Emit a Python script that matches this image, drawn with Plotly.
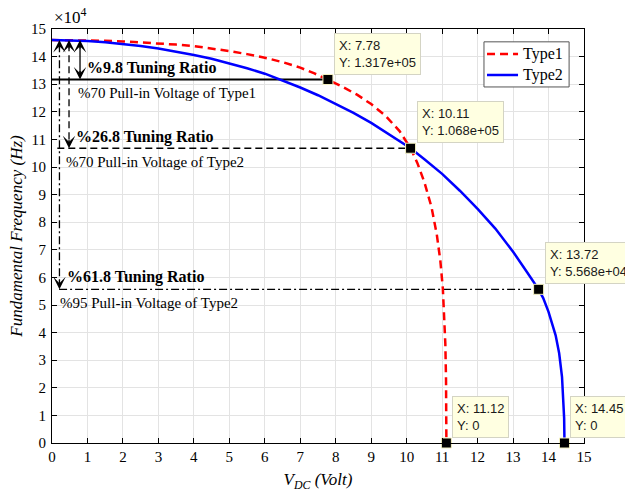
import plotly.graph_objects as go

# ---------------- data ----------------
V_type1 = [0, 0.5, 1, 1.5, 2, 2.5, 3, 3.5, 4, 4.5, 5, 5.5, 6, 6.5, 7, 7.4, 7.78,
           8.2, 8.6, 9.0, 9.4, 9.8, 10.11, 10.3, 10.5, 10.7, 10.85, 10.95, 11.02,
           11.06, 11.09, 11.11, 11.118, 11.12]
F_type1 = [146000, 145980, 145900, 145750, 145500, 145200, 144800, 144350, 143800,
           143000, 142000, 140900, 139600, 138000, 136000, 133900, 131700,
           129000, 126200, 122800, 118600, 113000, 106800, 101500, 94500, 85500,
           75500, 66000, 56000, 47000, 36000, 23000, 12000, 0]

V_type2 = [0, 0.5, 1, 1.5, 2, 2.5, 3, 3.5, 4, 4.5, 5, 5.5, 6, 6.43, 7, 7.5, 8,
           8.5, 9, 9.5, 10.11, 10.5, 11, 11.5, 12, 12.5, 13, 13.4, 13.72, 13.85,
           14.0, 14.2, 14.3, 14.38, 14.42, 14.44, 14.45]
F_type2 = [146000, 145900, 145650, 145200, 144600, 143800, 142900, 141800, 140600,
           139200, 137600, 135800, 133800, 131700, 128800, 126000, 122900,
           119600, 116000, 112000, 106800, 102800, 97500, 91400, 84800, 77700,
           69300, 61800, 55680, 52500, 47500, 39000, 32500, 24000, 16000, 9000, 0]

tip_v = [7.78, 10.11, 13.72, 11.12, 14.45]
tip_f = [131700, 106800, 55680, 0, 0]

f0 = 146000
ref_levels = [131700, 106800, 55680]
ref_end_v = [7.78, 10.11, 13.72]
ref_start_v = [0.0, 0.15, 0.2]
arrow_v = [0.79, 0.48, 0.21]
ratio_labels = ["%9.8 Tuning Ratio", "%26.8 Tuning Ratio", "%61.8 Tuning Ratio"]
pullin_labels = ["%70 Pull-in Voltage of Type1", "%70 Pull-in Voltage of Type2",
                 "%95 Pull-in Voltage of Type2"]
series_names = ["Type1", "Type2"]

x_ticks = list(range(16))
y_ticks = list(range(16))  # in units of 1e4 Hz

# ---------------- styles ----------------
SERIF = "Liberation Serif"
SANS = "Liberation Sans"
ref_dash = ["solid", "7px,4px", "8px,3px,2px,3px"]
ref_width = [2, 1.3, 1.3]
ratio_pos = [(0.92, 135900), (0.63, 110900), (0.38, 60100)]
pullin_pos = [(0.69, 126800), (0.35, 101800), (0.155, 50700)]
series_colors = ["#ff0000", "#0000ff"]
series_dash = ["8px,5px", "solid"]

fig = go.Figure()

# reference horizontal lines and vertical arrow shafts
for lvl, xs, xe, av, dsh, w in zip(ref_levels, ref_start_v, ref_end_v, arrow_v, ref_dash, ref_width):
    fig.add_trace(go.Scatter(x=[xs, xe], y=[lvl, lvl], mode="lines",
                             line=dict(color="black", width=w, dash=dsh),
                             showlegend=False, hoverinfo="skip"))
    fig.add_trace(go.Scatter(x=[av, av], y=[f0 - 1500, lvl + 1500], mode="lines",
                             line=dict(color="black", width=1.3, dash=dsh),
                             showlegend=False, hoverinfo="skip"))

for V, F, nm, col, dsh in zip([V_type1, V_type2], [F_type1, F_type2], series_names,
                              series_colors, series_dash):
    fig.add_trace(go.Scatter(x=V, y=F, mode="lines", name=nm, showlegend=False,
                             line=dict(color=col, width=2.5, dash=dsh)))

fig.add_trace(go.Scatter(x=tip_v, y=tip_f, mode="markers", showlegend=False,
                         cliponaxis=False, hoverinfo="skip",
                         marker=dict(symbol="square", size=10, color="black",
                                     line=dict(color="#f3f0c0", width=1))))

annotations = []
# arrow heads
for lvl, av in zip(ref_levels, arrow_v):
    annotations.append(dict(x=av, y=f0, xref="x", yref="y", ax=0, ay=10, text="",
                            showarrow=True, arrowhead=3, arrowsize=1.6, arrowwidth=1.3,
                            arrowcolor="black", standoff=0))
    annotations.append(dict(x=av, y=lvl, xref="x", yref="y", ax=0, ay=-10, text="",
                            showarrow=True, arrowhead=3, arrowsize=1.6, arrowwidth=1.3,
                            arrowcolor="black", standoff=0))

for txt, (px, py) in zip(ratio_labels, ratio_pos):
    annotations.append(dict(x=px, y=py, xref="x", yref="y", text="<b>" + txt + "</b>",
                            showarrow=False, xanchor="left", yanchor="middle",
                            font=dict(family=SERIF, size=16, color="black")))
for txt, (px, py) in zip(pullin_labels, pullin_pos):
    annotations.append(dict(x=px, y=py, xref="x", yref="y", text=txt,
                            showarrow=False, xanchor="left", yanchor="middle",
                            font=dict(family=SERIF, size=15, color="black")))

# data tips
for tv, tf in zip(tip_v, tip_f):
    ytxt = "0" if tf == 0 else f"{tf:.3e}"
    annotations.append(dict(x=tv, y=tf, xref="x", yref="y",
                            text=f"X: {tv:g}<br>Y: {ytxt}", align="left",
                            showarrow=False, xanchor="left", yanchor="bottom",
                            xshift=6, yshift=5, bgcolor="#ffffe1",
                            bordercolor="#d4d4c4", borderwidth=1, borderpad=4,
                            font=dict(family=SANS, size=13, color="#1a1a1a")))

# exponent label
annotations.append(dict(x=0, y=1, xref="paper", yref="paper", text="×10<sup>4</sup>",
                        showarrow=False, xanchor="left", yanchor="bottom", yshift=0,
                        font=dict(family=SERIF, size=17, color="black")))

# manual legend (box, keys, labels) in plot-area paper coordinates
leg_x0, leg_x1, leg_y0, leg_y1 = 0.812, 0.972, 0.860, 0.969
leg_rows = [0.9396, 0.8889]
shapes = [dict(type="rect", xref="paper", yref="paper", x0=leg_x0, x1=leg_x1,
               y0=leg_y0, y1=leg_y1, fillcolor="white",
               line=dict(color="#555555", width=1), layer="above")]
for nm, col, dsh, ry in zip(series_names, series_colors, series_dash, leg_rows):
    shapes.append(dict(type="line", xref="paper", yref="paper", x0=0.8177, x1=0.876,
                       y0=ry, y1=ry, line=dict(color=col, width=2.5, dash=dsh),
                       layer="above"))
    annotations.append(dict(x=0.8816, y=ry, xref="paper", yref="paper", text=nm,
                            showarrow=False, xanchor="left", yanchor="middle",
                            font=dict(family=SERIF, size=16, color="black")))

fig.update_layout(
    width=625, height=496,
    margin=dict(l=52, r=41, t=29, b=53),
    template="none",
    paper_bgcolor="white", plot_bgcolor="white",
    annotations=annotations,
    shapes=shapes,
    showlegend=False,
    xaxis=dict(range=[0, 15], tickvals=x_ticks, ticktext=[str(t) for t in x_ticks],
               ticks="inside", ticklen=5, tickcolor="black", mirror="ticks",
               showline=True, linecolor="black", linewidth=1,
               showgrid=True, gridcolor="#e3e3e3", gridwidth=1, zeroline=False,
               tickfont=dict(family=SERIF, size=15, color="black"),
               title=dict(text="<i>V<sub>DC</sub> (Volt)</i>", standoff=9,
                          font=dict(family=SERIF, size=17, color="black"))),
    yaxis=dict(range=[0, 150000], tickvals=[t * 1e4 for t in y_ticks],
               ticktext=[str(t) for t in y_ticks],
               ticks="inside", ticklen=5, tickcolor="black", mirror="ticks",
               showline=True, linecolor="black", linewidth=1,
               showgrid=True, gridcolor="#e3e3e3", gridwidth=1, zeroline=False,
               ticklabelstandoff=2,
               tickfont=dict(family=SERIF, size=15, color="black"),
               title=dict(text="<i>Fundamental Frequency (Hz)</i>", standoff=4,
                          font=dict(family=SERIF, size=17, color="black"))),
)

fig.write_html("out.html")
